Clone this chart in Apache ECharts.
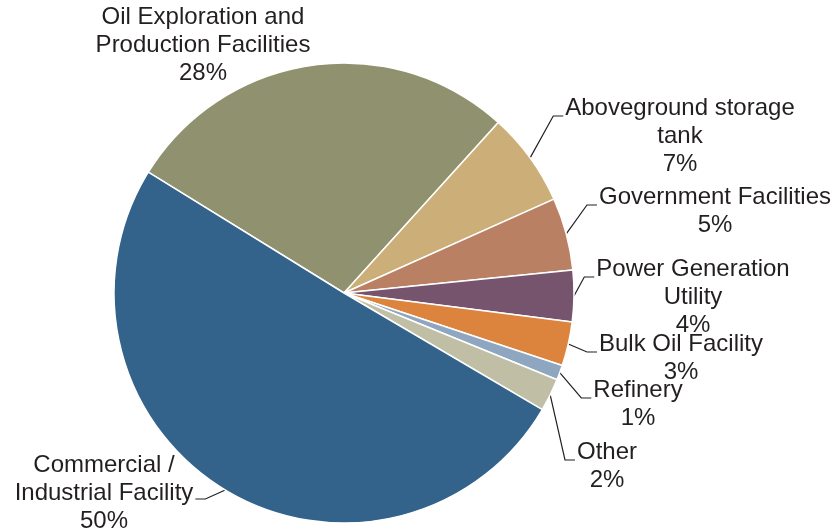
<!DOCTYPE html>
<html>
<head>
<meta charset="utf-8">
<script src="https://cdn.jsdelivr.net/npm/echarts@6/dist/echarts.min.js"></script>
<style>html,body{margin:0;padding:0;background:#fff;}#c{width:835px;height:531px;}</style>
</head>
<body>
<div id="c"></div>
<script>
// ---- data ----
const categories = [
  'Oil Exploration and\nProduction Facilities',
  'Aboveground storage\ntank',
  'Government Facilities',
  'Power Generation\nUtility',
  'Bulk Oil Facility',
  'Refinery',
  'Other',
  'Commercial /\nIndustrial Facility'
];
const values = [27.9, 6.6, 5.1, 3.6, 3.1, 1.05, 2.3, 50.35];
const colors = ['#90916E', '#CBAE78', '#BA8064', '#76546E', '#DC843D', '#8FA6C1', '#C0BEA5', '#33628A'];

// ---- layout (label placement) ----
const CX = 344, CY = 293, R = 230, START = 148.3;
const labelCenters = [[203, 45], [680, 136], [715, 211], [693, 297], [681, 358], [638, 404], [607, 466], [104, 493]];

const total = values.reduce((a, b) => a + b, 0);
function midAngle(i) {
  let acc = 0;
  for (let k = 0; k < i; k++) acc += values[k];
  const a = START - (acc + values[i] / 2) / total * 360;
  return a * Math.PI / 180;
}

const chart = echarts.init(document.getElementById('c'), null, {renderer: 'canvas'});
chart.setOption({
  animation: false,
  backgroundColor: '#ffffff',
  series: [{
    type: 'pie',
    center: [CX, CY],
    radius: [0, R],
    startAngle: START,
    clockwise: true,
    avoidLabelOverlap: false,
    itemStyle: {borderColor: '#ffffff', borderWidth: 1.5},
    label: {
      show: true,
      position: 'outside',
      fontFamily: '"Liberation Sans", Arial, sans-serif',
      fontSize: 24,
      lineHeight: 28,
      color: '#231F20',
      align: 'center',
      formatter: p => p.name + '\n' + Math.round(p.percent) + '%'
    },
    labelLine: {show: true, length: 10, length2: 10, lineStyle: {color: '#231F20', width: 1.2}},
    labelLayout: function (params) {
      const i = params.dataIndex;
      const c = labelCenters[i];
      const w = params.labelRect.width, h = params.labelRect.height;
      const left = c[0] - w / 2, top = c[1] - h / 2, right = c[0] + w / 2;
      const a = midAngle(i);
      const p0 = [CX + R * Math.cos(a), CY - R * Math.sin(a)];
      let pts;
      if (i === 7) {
        const end = [right + 2, top + 48];
        pts = [p0, [end[0] + 10, end[1]], end];
      } else {
        const end = [left - 2, top + 22];
        pts = [p0, [end[0] - 10, end[1]], end];
      }
      return {x: c[0], y: c[1], align: 'center', verticalAlign: 'middle', labelLinePoints: pts};
    },
    data: categories.map((n, i) => ({
      name: n,
      value: values[i],
      itemStyle: {color: colors[i]},
      labelLine: {show: i !== 0}
    }))
  }]
});
</script>
</body>
</html>
